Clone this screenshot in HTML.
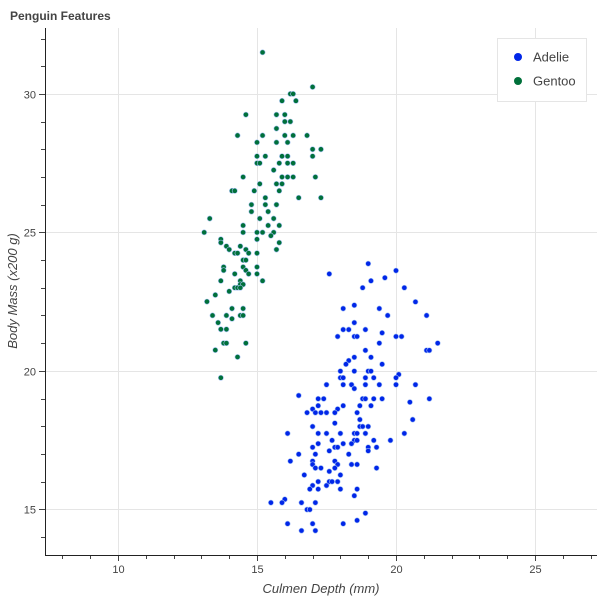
<!DOCTYPE html>
<html><head><meta charset="utf-8"><style>
body{margin:0;background:#fff;font-family:"Liberation Sans",sans-serif}
svg{display:block}
</style></head><body>
<svg id="chart" width="600" height="600">
<text x="10" y="20" font-size="12" font-weight="bold" fill="#444">Penguin Features</text>
<g id="grid"></g><g id="axes"></g><g id="marks"></g>
<text x="321" y="593" text-anchor="middle" font-size="13" font-style="italic" fill="#444">Culmen Depth (mm)</text>
<text transform="translate(17,291) rotate(-90)" text-anchor="middle" font-size="13" font-style="italic" fill="#444">Body Mass (x200 g)</text>
<g>
<rect x="497.5" y="38.5" width="89" height="63" fill="#fff" stroke="#e5e5e5"/>
<g><circle cx="518" cy="57" r="4" fill="#0026e8"/><text x="533" y="61.5" font-size="13" fill="#444">Adelie</text></g>
<g><circle cx="518" cy="81" r="4" fill="#00703a"/><text x="533" y="85.5" font-size="13" fill="#444">Gentoo</text></g>
</g>
</svg>
<script>
const xTicks=[10,15,20,25];
const yTicks=[15,20,25,30];
const gentooDepth=[15.2,17.0,16.2,16.3,15.9,16.4,14.6,15.7,16.0,16.0,16.2,15.7,14.3,15.2,16.0,16.3,16.8,15.0,15.7,16.1,17.0,17.3,15.0,15.3,15.9,16.1,17.0,15.0,15.1,15.8,16.1,16.3,15.6,14.5,15.9,16.1,16.3,17.1,15.1,15.7,15.9,14.1,14.2,14.9,15.8,15.3,16.5,17.3,14.8,15.3,15.7,14.8,15.4,13.3,15.1,15.6,14.5,15.4,15.8,13.1,14.5,15.0,15.2,15.6,15.5,13.7,15.0,13.7,15.8,13.9,14.4,14.0,14.6,15.7,14.2,14.3,14.7,15.0,14.5,14.6,13.8,14.5,15.0,13.8,14.6,14.2,14.7,15.0,13.7,14.4,15.2,14.4,14.5,14.2,14.3,14.4,14.0,13.5,13.2,14.1,14.5,13.4,13.9,14.4,14.5,14.1,13.6,13.7,13.9,13.8,13.9,14.6,13.5,14.3,13.7];
const gentooMass=[31.5,30.25,30,30,29.75,29.75,29.25,29.25,29.25,29.0,29.0,28.75,28.5,28.5,28.5,28.5,28.5,28.25,28.25,28.25,28.0,28.0,27.75,27.75,27.75,27.75,27.75,27.5,27.5,27.5,27.5,27.5,27.25,27.0,27.0,27.0,27.0,27.0,26.75,26.75,26.75,26.5,26.5,26.5,26.5,26.25,26.25,26.25,26.0,26.0,26.0,25.75,25.75,25.5,25.5,25.5,25.25,25.25,25.25,25.0,25.0,25.0,25.0,25.0,24.88,24.75,24.75,24.63,24.63,24.5,24.5,24.38,24.38,24.38,24.25,24.25,24.25,24.25,24.0,24.0,23.75,23.75,23.75,23.63,23.63,23.5,23.5,23.5,23.25,23.25,23.25,23.12,23.12,23.0,23.0,23.0,22.87,22.74,22.5,22.25,22.25,22.0,22.0,22.0,22.0,21.88,21.74,21.5,21.5,21.0,21.0,21.0,20.75,20.5,19.75];
const adelieDepth=[19.0,20.0,17.6,19.6,19.1,18.8,20.3,20.7,18.5,18.1,19.4,19.7,21.1,18.5,18.1,18.3,18.9,19.5,17.9,18.5,18.6,20.0,20.2,19.4,21.5,18.9,21.1,21.2,19.1,18.5,18.3,18.2,19.5,18.0,18.5,19.0,19.1,20.1,18.0,18.1,18.9,19.2,20.0,17.5,18.1,18.4,18.9,19.4,20.0,20.7,18.5,16.5,17.2,17.4,18.8,18.9,19.2,19.5,21.2,20.5,17.2,18.1,19.1,18.7,17.0,17.9,16.8,17.1,17.3,17.5,17.8,18.6,18.7,20.6,17.8,17.0,18.7,18.8,19.0,16.1,17.2,17.5,18.0,18.5,18.6,18.9,20.3,17.7,18.5,18.6,19.2,19.8,17.2,18.1,18.4,17.0,17.8,17.9,19.0,19.3,17.6,19.0,16.5,17.1,18.3,16.2,17.0,17.8,17.0,17.9,18.4,18.6,17.1,17.3,17.8,19.3,17.6,16.7,18.0,17.2,17.6,17.7,17.9,17.0,17.5,16.9,17.2,18.0,18.6,18.5,16.0,15.5,15.9,16.6,17.1,16.8,16.9,18.9,18.6,16.1,17.0,18.1,16.6,17.1];
const adelieMass=[23.87,23.62,23.5,23.36,23.25,23.0,23.0,22.49,22.37,22.25,22.25,22.0,22.0,21.74,21.49,21.49,21.49,21.37,21.24,21.24,21.24,21.24,21.24,21.0,21.0,20.74,20.74,20.74,20.49,20.49,20.37,20.24,20.24,19.99,19.99,19.99,19.99,19.87,19.75,19.75,19.75,19.75,19.75,19.5,19.5,19.5,19.5,19.5,19.5,19.5,19.36,19.11,18.99,18.99,18.99,18.99,18.99,18.99,18.99,18.87,18.74,18.74,18.74,18.74,18.62,18.62,18.49,18.49,18.49,18.49,18.49,18.49,18.24,18.24,18.11,17.99,17.99,17.99,17.99,17.74,17.74,17.74,17.74,17.74,17.74,17.74,17.74,17.49,17.49,17.49,17.49,17.49,17.37,17.37,17.37,17.24,17.24,17.24,17.24,17.24,17.11,17.11,16.99,16.99,16.99,16.74,16.74,16.74,16.62,16.62,16.62,16.62,16.49,16.49,16.49,16.49,16.37,16.24,16.24,16.0,16.0,16.0,16.0,15.86,15.86,15.73,15.73,15.73,15.73,15.49,15.36,15.24,15.24,15.24,15.24,14.99,14.99,14.86,14.6,14.48,14.48,14.48,14.23,14.23];

const L=45,R=597,T=28,B=555;
const X0=7.374,X1=27.23,Y0=13.35,Y1=32.38;
function sx(v){return L+(v-X0)/(X1-X0)*(R-L);}
function sy(v){return B-(v-Y0)/(Y1-Y0)*(B-T);}
const NS="http://www.w3.org/2000/svg";
function mk(tag,attrs,parent){const e=document.createElementNS(NS,tag);for(const k in attrs)e.setAttribute(k,attrs[k]);parent.appendChild(e);return e;}
const grid=document.getElementById('grid'),axes=document.getElementById('axes'),marks=document.getElementById('marks');
xTicks.forEach(t=>{const x=Math.round(sx(t))+0.5;
 const g=mk('line',{x1:x,x2:x,y1:T,y2:B,stroke:'#e5e5e5'},grid);
 
 
 mk('line',{x1:x,x2:x,y1:B,y2:B+6,stroke:'#444'},axes);
 const tl=mk('text',{x:x,y:B+18,'text-anchor':'middle','font-size':'11',fill:'#444'},axes);tl.textContent=t;
 
 
});
for(let v=Math.ceil(X0);v<X1;v++){if(xTicks.includes(v))continue;const x=Math.round(sx(v))+0.5;mk('line',{x1:x,x2:x,y1:B,y2:B+4,stroke:'#444'},axes);}
yTicks.forEach(t=>{const y=Math.round(sy(t))+0.5;
 const g=mk('line',{x1:L,x2:R,y1:y,y2:y,stroke:'#e5e5e5'},grid);
 
 
 mk('line',{x1:L-6,x2:L,y1:y,y2:y,stroke:'#444'},axes);
 const tl=mk('text',{x:L-9,y:y+4,'text-anchor':'end','font-size':'11',fill:'#444'},axes);tl.textContent=t;
 
 
});
for(let v=Math.ceil(Y0);v<Y1;v++){if(yTicks.includes(v))continue;const y=Math.round(sy(v))+0.5;mk('line',{x1:L-4,x2:L,y1:y,y2:y,stroke:'#444'},axes);}
mk('line',{x1:L+0.5,x2:L+0.5,y1:T,y2:B+0.5,stroke:'#222'},axes);
mk('line',{x1:L,x2:R,y1:B+0.5,y2:B+0.5,stroke:'#222'},axes);
function plot(xs,ys,col,name){xs.forEach((d,i)=>{
 const c=mk('circle',{cx:sx(d),cy:sy(ys[i]),r:2.6,fill:col,stroke:'#a9c4f5','stroke-width':0.6},marks);
 
 
});}
plot(gentooDepth,gentooMass,'#00703a','gentoo-point');
plot(adelieDepth,adelieMass,'#0026e8','adelie-point');
</script>
</body></html>
